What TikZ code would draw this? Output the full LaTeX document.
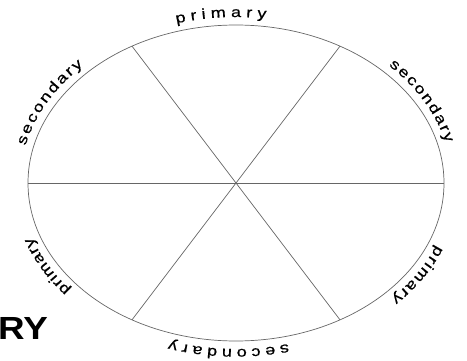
\documentclass[tikz,border=0pt]{standalone}
\usepackage{fontspec}
\setmainfont{Liberation Sans}
\newfontfamily\rimface[FakeStretch=1.25, FakeBold=0.6]{Liberation Sans}
\newfontfamily\tagface[FakeStretch=1.15]{Liberation Sans}
\usetikzlibrary{decorations.text}

\newcommand\rimfont{\rimface\fontsize{14.5}{17}\selectfont}

\begin{document}
\begin{tikzpicture}[x=1pt, y=1pt,
      spoke/.style={draw=black!60, line width=0.7pt},
      rim label/.style={decorate, decoration={text along path,
        text={|\rimfont|#1}, text align=fit to path}}]
  \useasboundingbox (0,0) rectangle (467,360);
  \coordinate (hub) at (236,177);
  \draw[spoke] (hub) ellipse [x radius=208, y radius=158];
  % six spokes from the hub to the rim
  \foreach \a [count=\i] in {0,60,...,300} {
    \path (hub) ++(\a:208 and 158) coordinate (rim\i);
    \draw[spoke] (hub) -- (rim\i);
  }
  % labels running clockwise round the rim
  \path[rim label=primary]   (hub) ++(106:216 and 166) arc[start angle=106, end angle=82,  x radius=216, y radius=166];
  \path[rim label=secondary] (hub) ++(45:216 and 166)  arc[start angle=45,  end angle=14,  x radius=216, y radius=166];
  \path[rim label=primary]   (hub) ++(-22:216 and 166) arc[start angle=-22, end angle=-44, x radius=216, y radius=166];
  \path[rim label=secondary] (hub) ++(-76:216 and 166) arc[start angle=-76, end angle=-108,x radius=216, y radius=166];
  \path[rim label=primary]   (hub) ++(220:216 and 166) arc[start angle=220, end angle=199, x radius=216, y radius=166];
  \path[rim label=secondary] (hub) ++(167:216 and 166) arc[start angle=167, end angle=135, x radius=216, y radius=166];
  \node[anchor=base west, inner sep=0pt, font=\tagface\bfseries\fontsize{32}{36}\selectfont] (tag) at (-2,21) {RY};
\end{tikzpicture}
\end{document}
